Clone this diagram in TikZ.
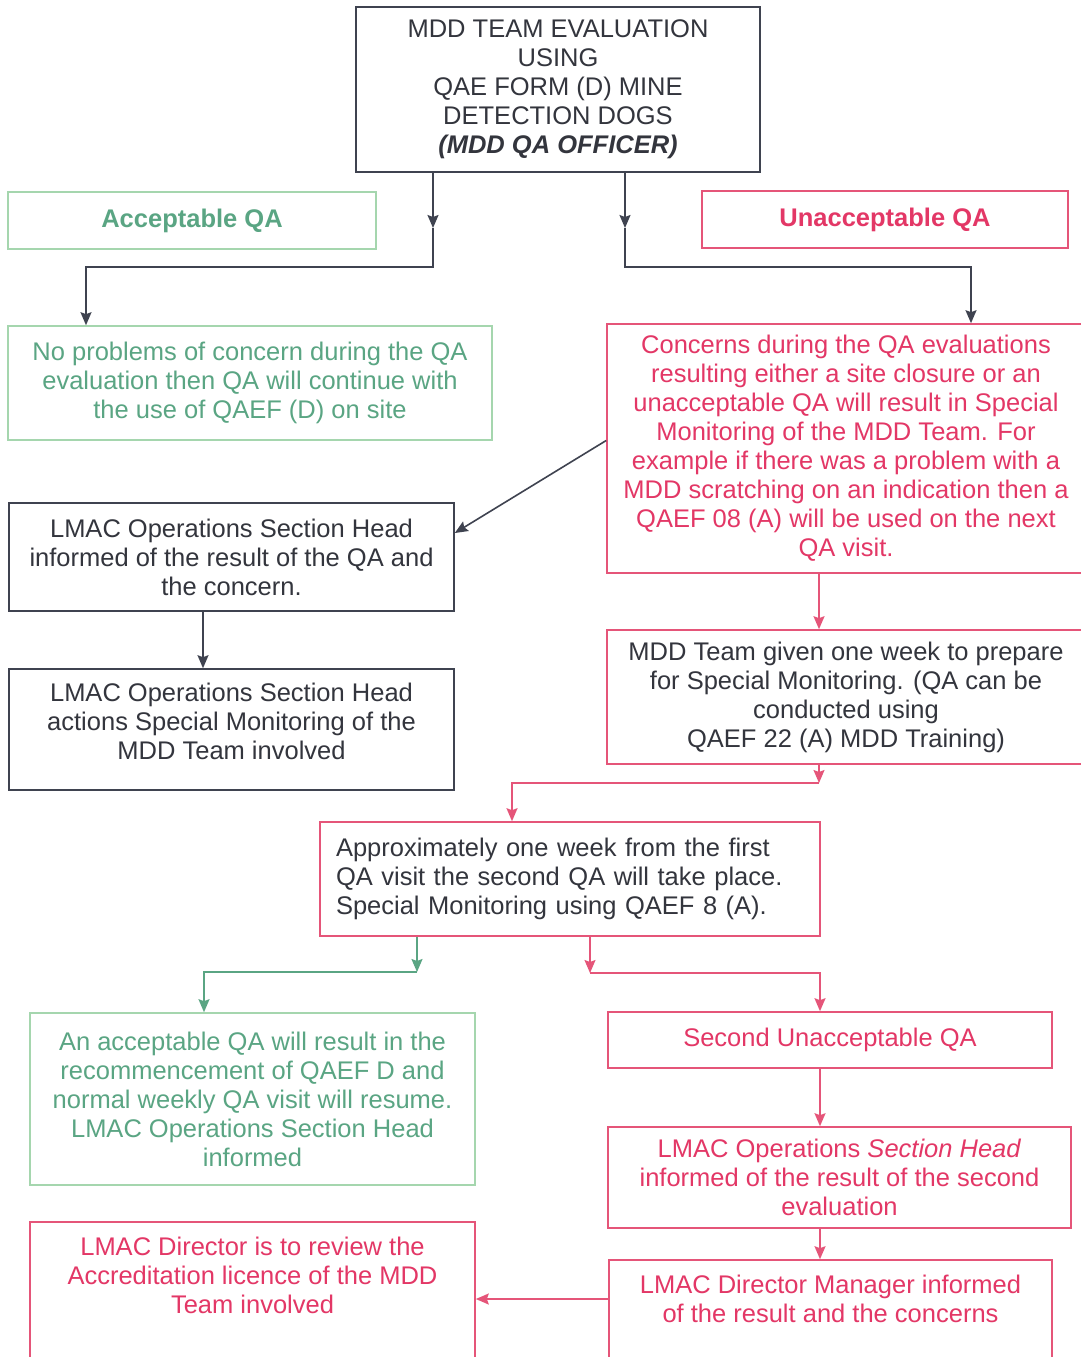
\documentclass[tikz,border=0pt]{standalone}
\usepackage{fontspec}
\setmainfont{Liberation Sans}
\usetikzlibrary{arrows.meta,calc}
\definecolor{dk}{HTML}{3F4350}
\definecolor{txt}{HTML}{33353D}
\definecolor{gtx}{HTML}{5AA583}
\definecolor{gbd}{HTML}{A5D6AE}
\definecolor{rtx}{HTML}{E33766}
\definecolor{rbd}{HTML}{E55579}
\tikzset{
  base/.style={rectangle, draw, line width=1.6pt, inner sep=2pt, align=center,
    font=\fontsize{25.5}{29}\selectfont},
  dbox/.style={base, draw=dk, text=txt},
  gbox/.style={base, draw=gbd, text=gtx},
  rbox/.style={base, draw=rbd, text=rtx},
  rkbox/.style={base, draw=rbd, text=txt},
  arr/.style={line width=1.6pt, -{Stealth[length=13pt,width=11pt,inset=2pt]}},
  ln/.style={line width=1.6pt},
}
\begin{document}
\begin{tikzpicture}[x=1pt,y=-1pt]
\path[use as bounding box, clip] (0,0) rectangle (1081,1357);
\fill[white] (0,0) rectangle (1081,1357);

\node[dbox, minimum width=404, minimum height=165] (top) at (558,89.5)
  {MDD TEAM EVALUATION\\USING\\QAE FORM (D) MINE\\DETECTION DOGS\\\textbf{\textit{(MDD QA OFFICER)}}};
\node[gbox, minimum width=368, minimum height=57, font=\fontsize{25.5}{29}\selectfont\bfseries] (acc) at (192,220.5) {Acceptable QA};
\node[rbox, minimum width=366, minimum height=57, font=\fontsize{25.5}{29}\selectfont\bfseries] (unacc) at (885,219.5) {Unacceptable QA};

\node[gbox, minimum width=484, minimum height=114] (g1) at (250,383)
  {No problems of concern during the QA\\evaluation then QA will continue with\\the use of QAEF (D) on site};
\node[rbox, minimum width=478, minimum height=249] (r1) at (846,448.5)
  {Concerns during the QA evaluations\\resulting either a site closure or an\\unacceptable QA will result in Special\\Monitoring of the MDD Team. For\\example if there was a problem with a\\MDD scratching on an indication then a\\QAEF 08 (A) will be used on the next\\QA visit.};

\node[dbox, minimum width=445, minimum height=108] (ops1) at (231.5,557)
  {LMAC Operations Section Head\\informed of the result of the QA and\\the concern.};
\node[dbox, minimum width=445, minimum height=121] (ops2) at (231.5,729.5)
  {LMAC Operations Section Head\\actions Special Monitoring of the\\MDD Team involved\\[-12pt]\mbox{}};
\node[rkbox, minimum width=478, minimum height=134] (mdd) at (846,697)
  {MDD Team given one week to prepare\\for Special Monitoring. (QA can be\\conducted using\\QAEF 22 (A) MDD Training)};

\node[rkbox, minimum width=500, minimum height=114, text width=468, inner xsep=16, align=left] (appr) at (570,879)
  {Approximately one week from the first\\QA visit the second QA will take place.\\Special Monitoring using QAEF 8 (A).};

\node[gbox, minimum width=445, minimum height=172] (g2) at (252.5,1099)
  {An acceptable QA will result in the\\recommencement of QAEF D and\\normal weekly QA visit will resume.\\LMAC Operations Section Head\\informed};
\node[rbox, minimum width=444, minimum height=56] (su) at (830,1040) {Second Unacceptable QA};
\node[rbox, minimum width=463, minimum height=101] (ops3) at (839.5,1177.5)
  {LMAC Operations \textit{Section Head}\\informed of the result of the second\\evaluation};
\node[rbox, minimum width=445, minimum height=164] (dr) at (252.5,1304)
  {LMAC Director is to review the\\Accreditation licence of the MDD\\Team involved\\\mbox{}\\\mbox{}};
\node[rbox, minimum width=443, minimum height=135] (dm) at (830.5,1327.5)
  {LMAC Director Manager informed\\of the result and the concerns\\\mbox{}\\\mbox{}};

% connectors
\coordinate (a1) at (433,228);
\coordinate (ka) at (86,267);
\draw[arr, dk] (top.south -| a1) -- (a1);
\draw[arr, dk] (a1) |- (ka) -- (ka |- g1.north);
\coordinate (b1) at (625,228);
\coordinate (kb) at (971,267);
\draw[arr, dk] (top.south -| b1) -- (b1);
\draw[arr, dk] (b1) |- (kb) -- (kb |- r1.north);

\draw[arr, dk] ([yshift=8pt]r1.west) -- ([yshift=24pt]ops1.east);
\draw[arr, dk] ([xshift=-28.5pt]ops1.south) -- ([xshift=-28.5pt]ops1.south |- ops2.north);

\draw[arr, rbd] ([xshift=-27pt]r1.south) -- ([xshift=-27pt]mdd.north);
\coordinate (m1) at (819,783);
\coordinate (m2) at (512,783);
\draw[arr, rbd] (mdd.south -| m1) -- (m1);
\draw[arr, rbd] (m1) -- (m2) -- (m2 |- appr.north);

\coordinate (p1) at (417,972);
\coordinate (p2) at (204,972);
\draw[arr, gtx] (appr.south -| p1) -- (p1);
\draw[arr, gtx] (p1) -- (p2) -- (p2 |- g2.north);

\coordinate (q1) at (590,973);
\coordinate (q2) at (820,973);
\draw[arr, rbd] (appr.south -| q1) -- (q1);
\draw[arr, rbd] (q1) -- (q2) -- (q2 |- su.north);

\draw[arr, rbd] (su.south -| q2) -- (q2 |- ops3.north);
\draw[arr, rbd] (ops3.south -| q2) -- (q2 |- dm.north);
\draw[arr, rbd] ([yshift=28.5pt]dm.west) -- ([yshift=28.5pt]dm.west -| dr.east);
\end{tikzpicture}
\end{document}
